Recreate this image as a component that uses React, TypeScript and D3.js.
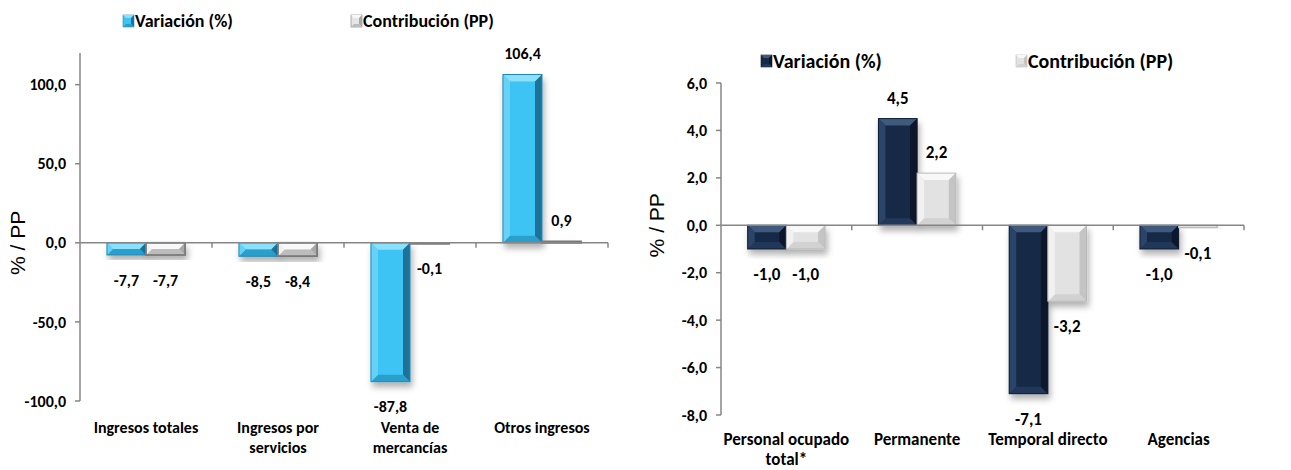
import React from "react";
import * as d3 from "d3";

// left chart: ingresos
const ingresosCats = [["Ingresos totales"], ["Ingresos por", "servicios"], ["Venta de", "mercancías"], ["Otros ingresos"]];
const ingresosVariacion = [-7.7, -8.5, -87.8, 106.4];
const ingresosContribucion = [-7.7, -8.4, -0.1, 0.9];
const ingresosTicks = [-100, -50, 0, 50, 100];

// right chart: personal ocupado
const personalCats = [["Personal ocupado", "total*"], ["Permanente"], ["Temporal directo"], ["Agencias"]];
const personalVariacion = [-1.0, 4.5, -7.1, -1.0];
const personalContribucion = [-1.0, 2.2, -3.2, -0.1];
const personalTicks = [-8, -6, -4, -2, 0, 2, 4, 6];

const seriesNames = ["Variación (%)", "Contribución (PP)"];

type Palette = { main: string; top: string; left: string; right: string; bottom: string; stroke: string; sw: number };

const blue: Palette = { main: "#3ec3f4", top: "#8be0fb", left: "#66d2f8", right: "#1d7299", bottom: "#2b9fcb", stroke: "#2589b3", sw: 1 };
const gray: Palette = { main: "#e6e6e6", top: "#f9f9f9", left: "#f0f0f0", right: "#a8a8a8", bottom: "#bcbcbc", stroke: "#7a7a7a", sw: 1.8 };
const navy: Palette = { main: "#172a47", top: "#3f5a7d", left: "#2c4567", right: "#0c1729", bottom: "#22395a", stroke: "#0f1e35", sw: 1 };
const light: Palette = { main: "#e2e2e2", top: "#f8f8f8", left: "#f1f1f1", right: "#c4c4c4", bottom: "#d2d2d2", stroke: "#b9b9b9", sw: 1 };

const fmt = (v: number) => v.toFixed(1).replace(".", ",");
const FONT = "'Liberation Sans Narrow', 'Arial Narrow', Calibri, Carlito, sans-serif";

function BevelBar({ x, y, w, h, p }: { x: number; y: number; w: number; h: number; p: Palette }) {
  const b = Math.max(0, Math.min(7, h / 2, w / 2));
  const pts = (a: number[][]) => a.map((q) => q.join(",")).join(" ");
  return (
    <g filter="url(#shadow)">
      <rect x={x} y={y} width={w} height={Math.max(h, 1)} fill={p.main} />
      {b > 0.8 && (
        <>
          <polygon points={pts([[x, y], [x + w, y], [x + w - b, y + b], [x + b, y + b]])} fill={p.top} />
          <polygon points={pts([[x, y + h], [x + w, y + h], [x + w - b, y + h - b], [x + b, y + h - b]])} fill={p.bottom} />
          <polygon points={pts([[x, y], [x + b, y + b], [x + b, y + h - b], [x, y + h]])} fill={p.left} />
          <polygon points={pts([[x + w, y], [x + w - b, y + b], [x + w - b, y + h - b], [x + w, y + h]])} fill={p.right} />
        </>
      )}
      <rect x={x} y={y} width={w} height={Math.max(h, 1)} fill="none" stroke={p.stroke} strokeWidth={p.sw} />
    </g>
  );
}

interface PanelProps {
  cats: string[][];
  s1: number[];
  s2: number[];
  ticks: number[];
  domain: [number, number];
  xRange: [number, number];
  yRange: [number, number];
  p1: Palette;
  p2: Palette;
  legendY: number;
  legendX: [number, number];
  legendSize: number;
  titleX: number;
  catY: number;
  labelSize: number;
  tickSize: number;
}

function Panel(props: PanelProps) {
  const { cats, s1, s2, ticks, domain, xRange, yRange, p1, p2 } = props;
  const y = d3.scaleLinear().domain(domain).range(yRange);
  const x = d3.scaleBand<number>().domain(d3.range(cats.length)).range(xRange);
  const inner = d3.scaleBand<number>().domain([0, 1]).range([0, x.bandwidth()]).paddingOuter(0.69).paddingInner(0);
  const y0 = y(0);
  const axisColor = "#868686";
  const bars: React.ReactNode[] = [];
  const labels: React.ReactNode[] = [];
  [s1, s2].forEach((series, si) => {
    series.forEach((v, i) => {
      const bx = (x(i) as number) + (inner(si) as number);
      const bw = inner.bandwidth();
      const top = Math.min(y(v), y0);
      const h = Math.abs(y(v) - y0);
      bars.push(<BevelBar key={`b${si}-${i}`} x={bx} y={top} w={bw} h={h} p={si === 0 ? p1 : p2} />);
      const ly = v >= 0 ? y(v) - 21 : y(v) + 25;
      labels.push(
        <text key={`l${si}-${i}`} x={bx + bw / 2} y={ly} dy="0.35em" textAnchor="middle" fontSize={props.labelSize} fontWeight="bold" fill="#000">
          {fmt(v)}
        </text>
      );
    });
  });
  return (
    <g fontFamily={FONT}>
      {/* legend */}
      {seriesNames.map((name, i) => {
        const p = i === 0 ? p1 : p2;
        const lx = props.legendX[i];
        return (
          <g key={name} transform={`translate(${lx},${props.legendY})`}>
            <rect x={0} y={-6} width={11} height={12} fill={p.main} stroke={p.stroke} strokeWidth={0.6} />
            <polygon points="0,-6 11,-6 8,-3 3,-3" fill={p.top} />
            <polygon points="11,-6 11,6 8,3 8,-3" fill={p.right} />
            <polygon points="0,6 11,6 8,3 3,3" fill={p.bottom} />
            <text x={12} dy="0.35em" fontSize={props.legendSize} fontWeight="bold">{name}</text>
          </g>
        );
      })}
      {/* y axis title */}
      <text transform={`translate(${props.titleX},${y0}) rotate(-90)`} textAnchor="middle" dy="0.35em" fontSize={21} fontFamily="'Liberation Sans', Arial, sans-serif">
        % / PP
      </text>
      {bars}
      {/* x axis at zero */}
      <line x1={xRange[0]} x2={xRange[1]} y1={y0} y2={y0} stroke={axisColor} strokeWidth={1.5} />
      {d3.range(1, cats.length + 1).map((i) => {
        const tx = xRange[0] + i * x.step();
        return <line key={i} x1={tx} x2={tx} y1={y0} y2={y0 + 5} stroke={axisColor} strokeWidth={1.5} />;
      })}
      {/* y axis */}
      <line x1={xRange[0]} x2={xRange[0]} y1={yRange[0]} y2={yRange[1]} stroke={axisColor} strokeWidth={1.5} />
      {ticks.map((t) => (
        <g key={t}>
          <line x1={xRange[0] - 5} x2={xRange[0]} y1={y(t)} y2={y(t)} stroke={axisColor} strokeWidth={1.5} />
          <text x={xRange[0] - 14} y={y(t)} dy="0.35em" textAnchor="end" fontSize={props.tickSize} fontWeight="bold">
            {fmt(t)}
          </text>
        </g>
      ))}
      {labels}
      {cats.map((lines, i) => (
        <text key={i} x={(x(i) as number) + x.bandwidth() / 2} y={props.catY} textAnchor="middle" fontSize={props.labelSize} fontWeight="bold">
          {lines.map((ln, k) => (
            <tspan key={k} x={(x(i) as number) + x.bandwidth() / 2} dy={k === 0 ? 0 : 20}>
              {ln}
            </tspan>
          ))}
        </text>
      ))}
    </g>
  );
}

export default function App() {
  return (
    <div style={{ position: "absolute", left: 0, top: 0 }}>
      <svg width={1291} height={470} style={{ display: "block", background: "#fff" }}>
        <defs>
          <filter id="shadow" x="-30%" y="-30%" width="170%" height="170%">
            <feDropShadow dx={2} dy={5} stdDeviation={3} floodColor="#000" floodOpacity={0.3} />
          </filter>
        </defs>
        <Panel
          cats={ingresosCats}
          s1={ingresosVariacion}
          s2={ingresosContribucion}
          ticks={ingresosTicks}
          domain={[-100, 120]}
          xRange={[80, 608]}
          yRange={[401, 53]}
          p1={blue}
          p2={gray}
          legendY={21}
          legendX={[123, 351]}
          legendSize={18}
          titleX={18}
          catY={433}
          labelSize={16}
          tickSize={16}
        />
        <Panel
          cats={personalCats}
          s1={personalVariacion}
          s2={personalContribucion}
          ticks={personalTicks}
          domain={[-8, 6]}
          xRange={[721, 1244]}
          yRange={[415, 83]}
          p1={navy}
          p2={light}
          legendY={61}
          legendX={[761, 1016]}
          legendSize={20}
          titleX={657}
          catY={445}
          labelSize={17}
          tickSize={16}
        />
      </svg>
    </div>
  );
}
